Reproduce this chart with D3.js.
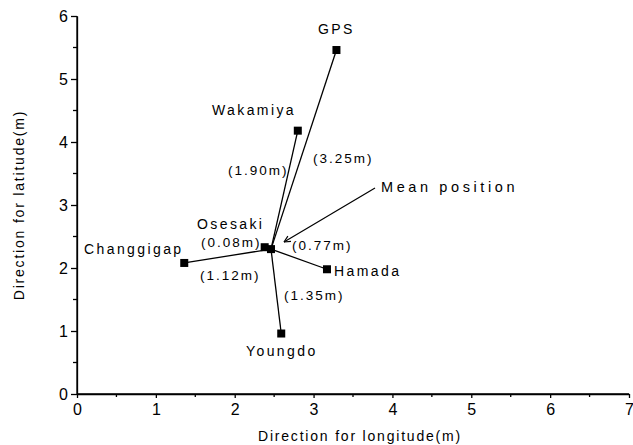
<!DOCTYPE html>
<html><head><meta charset="utf-8">
<script src="https://cdn.jsdelivr.net/npm/d3@7"></script>
<style>body{margin:0;background:#fff}text{font-family:"Liberation Sans",Arial,sans-serif;fill:#000}</style>
</head><body><svg id="c" width="633" height="445"></svg>
<script>
const names = ["GPS","Wakamiya","Osesaki","Hamada","Youngdo","Changgigap"];
const xs = [3.29, 2.80, 2.38, 3.17, 2.59, 1.36];
const ys = [5.46, 4.18, 2.33, 1.98, 0.96, 2.08];
const dists = ["(3.25m)","(1.90m)","(0.08m)","(0.77m)","(1.35m)","(1.12m)"];
const mean = {x: 2.46, y: 2.30};
const xTicks = [0,1,2,3,4,5,6,7];
const yTicks = [0,1,2,3,4,5,6];

const svg = d3.select("#c");
const x = d3.scaleLinear().domain([0,7]).range([77,629]);
const y = d3.scaleLinear().domain([0,6]).range([394,16]);

// axes
const xa = svg.append("g").attr("transform","translate(0,394)")
  .call(d3.axisBottom(x).tickValues(xTicks).tickSize(4).tickSizeOuter(0).tickPadding(6).tickFormat(d3.format("d")));
const ya = svg.append("g").attr("transform","translate(77,0)")
  .call(d3.axisLeft(y).tickValues(yTicks).tickSize(6).tickSizeOuter(0).tickPadding(3).tickFormat(d3.format("d")));
[xa,ya].forEach(a=>{
  a.select(".domain").style("stroke","#000").style("stroke-width","1.3px");
  a.selectAll(".tick line").style("stroke","#000").style("stroke-width","1.3px");
  a.selectAll(".tick text").attr("font-size",16).style("fill","#000");});
// explicit axis lines
svg.append("line").attr("x1",x(0)).attr("x2",x(7)).attr("y1",y(0)).attr("y2",y(0)).style("stroke","#000").style("stroke-width","1.3px");
svg.append("line").attr("x1",x(0)).attr("x2",x(0)).attr("y1",y(0)).attr("y2",y(6)).style("stroke","#000").style("stroke-width","1.3px");
// minor ticks
const xMinor = d3.range(0.5,7,1), yMinor = d3.range(0.5,6,1);
svg.append("g").selectAll("line").data(xMinor).join("line")
  .attr("x1",d=>x(d)).attr("x2",d=>x(d)).attr("y1",y(0)).attr("y2",y(0)+3).style("stroke","#000").style("stroke-width","1.3px");
svg.append("g").selectAll("line").data(yMinor).join("line")
  .attr("y1",d=>y(d)).attr("y2",d=>y(d)).attr("x1",x(0)).attr("x2",x(0)-4).style("stroke","#000").style("stroke-width","1.3px");

// titles
svg.append("text").attr("x",360).attr("y",441).attr("text-anchor","middle").attr("font-size",14).attr("letter-spacing",1.8).text("Direction for longitude(m)");
svg.append("text").attr("transform","translate(24,205) rotate(-90)").attr("text-anchor","middle").attr("font-size",14).attr("letter-spacing",1.8).text("Direction for latitude(m)");

// lines from the mean position
svg.append("g").selectAll("line").data(names).join("line")
  .attr("x1",x(mean.x)).attr("y1",y(mean.y)).attr("x2",(d,i)=>x(xs[i])).attr("y2",(d,i)=>y(ys[i]))
  .style("stroke","#000").style("stroke-width","1.3px");
// squares
svg.append("g").selectAll("rect").data(names).join("rect")
  .attr("x",(d,i)=>x(xs[i])-4).attr("y",(d,i)=>y(ys[i])-4).attr("width",8).attr("height",8).attr("fill","#000");
svg.append("rect").attr("x",x(mean.x)-4).attr("y",y(mean.y)-4).attr("width",8).attr("height",8).attr("fill","#000");

// name labels: left x / baseline y
const namePos = [[318,34],[212,115],[197,229],[334,276],[246,356],[84,254]];
svg.append("g").selectAll("text").data(names).join("text")
  .attr("x",(d,i)=>namePos[i][0]).attr("y",(d,i)=>namePos[i][1])
  .attr("font-size",14).attr("letter-spacing",2.4).text(d=>d);
// distance labels
const distPos = [[313,163],[228,175],[201,247],[292,250],[284,300],[200,280]];
svg.append("g").selectAll("text").data(dists).join("text")
  .attr("x",(d,i)=>distPos[i][0]).attr("y",(d,i)=>distPos[i][1])
  .attr("font-size",13.5).attr("letter-spacing",2).text(d=>d);

// arrow
const ax0 = 375, ay0 = 188, ax1 = 284, ay1 = 242;
svg.append("line").attr("x1",ax0).attr("y1",ay0).attr("x2",ax1).attr("y2",ay1).style("stroke","#000").style("stroke-width","1.2px");
const ang = Math.atan2(ay1-ay0, ax1-ax0);
const hl = 7;
[0.45,-0.45].forEach(a=>{
  svg.append("line").attr("x1",ax1).attr("y1",ay1)
    .attr("x2",ax1-hl*Math.cos(ang+a)).attr("y2",ay1-hl*Math.sin(ang+a)).style("stroke","#000").style("stroke-width","1.2px");
});
svg.append("text").attr("x",381).attr("y",192).attr("font-size",14.5).attr("letter-spacing",3.6).text("Mean position");
</script></body></html>
